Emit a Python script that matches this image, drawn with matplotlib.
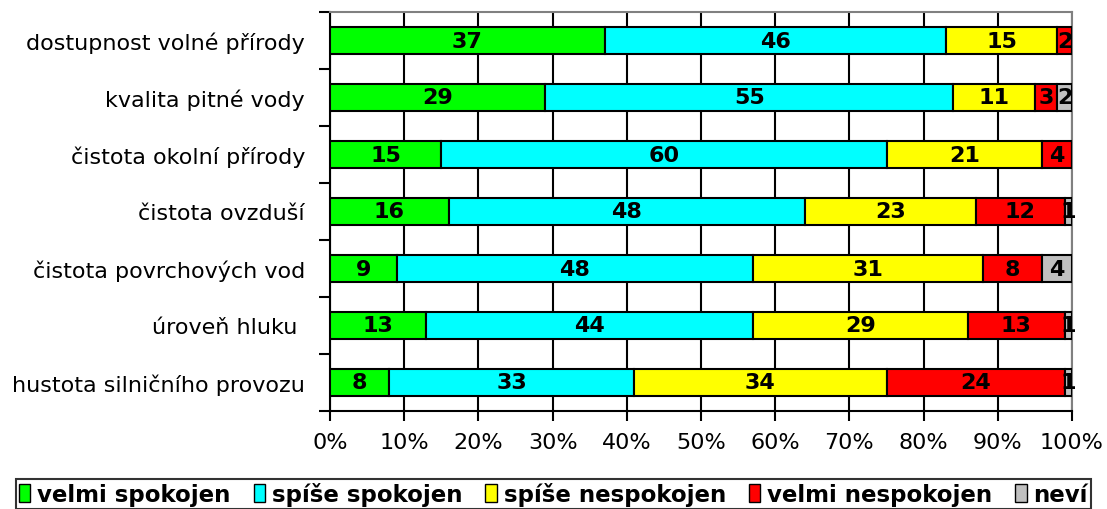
import numpy as np
import matplotlib.pyplot as plt
from matplotlib.patches import Patch
from matplotlib.ticker import FixedLocator, PercentFormatter

# data (percent of respondents)
categories = [
    "dostupnost volné přírody",
    "kvalita pitné vody",
    "čistota okolní přírody",
    "čistota ovzduší",
    "čistota povrchových vod",
    "úroveň hluku ",
    "hustota silničního provozu",
]
series_names = ["velmi spokojen", "spíše spokojen", "spíše nespokojen",
                "velmi nespokojen", "neví"]
velmi_spokojen = [37, 29, 15, 16, 9, 13, 8]
spise_spokojen = [46, 55, 60, 48, 48, 44, 33]
spise_nespokojen = [15, 11, 21, 23, 31, 29, 34]
velmi_nespokojen = [2, 3, 4, 12, 8, 13, 24]
nevi = [0, 2, 0, 1, 4, 1, 1]
colors = ["#00ff00", "#00ffff", "#ffff00", "#ff0000", "#c0c0c0"]

plt.rcParams['font.family'] = ['DejaVu Sans']

fig = plt.figure(figsize=(11.07, 5.10), dpi=100)
ax = fig.add_axes([330 / 1107, 98 / 510, 742 / 1107, 399 / 510])

data = np.array([velmi_spokojen, spise_spokojen, spise_nespokojen,
                 velmi_nespokojen, nevi], dtype=float)
shares = data / data.sum(axis=0) * 100
ypos = np.arange(len(categories))[::-1]

left = np.zeros(len(categories))
for i, name in enumerate(series_names):
    ax.barh(ypos, shares[i], left=left, height=0.47, color=colors[i],
            edgecolor="black", linewidth=1.5, zorder=3, label=name)
    for y, l, w, v in zip(ypos, left, shares[i], data[i]):
        if v > 0:
            ax.text(l + w / 2, y, f"{int(v)}", ha="center", va="center",
                    fontsize=16, fontweight="bold", zorder=4)
    left += shares[i]

ax.set_xlim(0, 100)
ax.set_ylim(-0.5, len(categories) - 0.5)
ax.set_xticks(np.arange(0, 101, 10))
ax.xaxis.set_major_formatter(PercentFormatter(decimals=0))
ax.set_yticks(ypos)
ax.set_yticklabels(categories)
ax.yaxis.set_minor_locator(FixedLocator(np.arange(-0.5, len(categories), 1)))
ax.tick_params(axis="y", which="major", length=0, pad=18, labelsize=16)
ax.tick_params(axis="y", which="minor", length=8, width=1.5)
ax.tick_params(axis="x", length=7, width=1.5, labelsize=16, pad=8)

ax.grid(axis="x", color="black", linewidth=1.5, zorder=0)
ax.set_axisbelow(True)
for side in ["left", "bottom"]:
    ax.spines[side].set_linewidth(1.5)
for side in ["top", "right"]:
    ax.spines[side].set_color("#808080")
    ax.spines[side].set_linewidth(1.5)

handles = [Patch(facecolor=c, edgecolor="black", linewidth=1) for c in colors]
leg = fig.legend(handles, series_names, loc="center", ncol=5,
                 bbox_to_anchor=(0.5, 15 / 510), frameon=True, fancybox=False,
                 handlelength=0.5, handleheight=0.8, handletextpad=0.3,
                 columnspacing=1.0, borderpad=0.15, borderaxespad=0,
                 prop={"size": 16.5, "weight": "bold"})
leg.get_frame().set_edgecolor("black")
leg.get_frame().set_linewidth(1.5)

fig.savefig("out.png", dpi=100)
